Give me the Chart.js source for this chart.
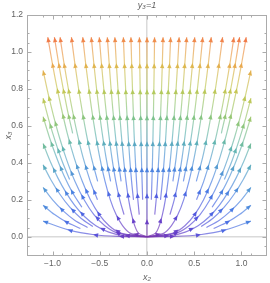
<!DOCTYPE html>
<html><head><meta charset="utf-8">
<script src="https://cdn.jsdelivr.net/npm/chart.js@4.4.1/dist/chart.umd.min.js"></script>
<style>html,body{margin:0;padding:0;background:#fff}</style>
</head><body>
<canvas id="c" width="270" height="283" style="width:270px;height:283px;display:block"></canvas>
<script>
// ---------- texts ----------
const titleText = 'y\u2083=1';
const xLabel = 'x\u2082';
const yLabel = 'x\u2083';
// ---------- axes ----------
const xRange = [-1.27, 1.27];
const yRange = [-0.104, 1.2];
const xMajor = 0.5, xMinor = 0.1;
const yMajor = 0.2, yMinor = 0.05;

// ---------- streamlines (left half, [x2, x3] points from start to end) ----------
const centerLine = [[0,0],[0,0.12],[0,0.2],[0,0.3],[0,0.43],[0,0.56],[0,0.69],[0,0.82],[0,0.95],[0,1.08]];

const topLines = [
 [[0,0],[-0.278,0.02],[-0.401,0.06],[-0.505,0.12],[-0.599,0.2],[-0.685,0.3],[-0.772,0.43],[-0.844,0.56],[-0.904,0.69],[-0.958,0.82],[-1.006,0.95],[-1.05,1.08]],
 [[-0.787,0.56],[-0.844,0.69],[-0.894,0.82],[-0.939,0.95],[-0.98,1.08]],
 [[-0.524,0.2],[-0.6,0.3],[-0.677,0.43],[-0.739,0.56],[-0.792,0.69],[-0.839,0.82],[-0.882,0.95],[-0.92,1.08]],
 [[-0.522,0.3],[-0.589,0.43],[-0.643,0.56],[-0.689,0.69],[-0.73,0.82],[-0.767,0.95],[-0.8,1.08]],
 [[0,0],[-0.18,0.02],[-0.259,0.06],[-0.327,0.12],[-0.388,0.2],[-0.444,0.3],[-0.5,0.43],[-0.546,0.56],[-0.586,0.69],[-0.62,0.82],[-0.652,0.95],[-0.68,1.08]],
 [[-0.385,0.3],[-0.434,0.43],[-0.474,0.56],[-0.508,0.69],[-0.538,0.82],[-0.565,0.95],[-0.59,1.08]],
 [[-0.243,0.12],[-0.288,0.2],[-0.33,0.3],[-0.372,0.43],[-0.406,0.56],[-0.435,0.69],[-0.461,0.82],[-0.484,0.95],[-0.505,1.08]],
 [[-0.274,0.3],[-0.309,0.43],[-0.337,0.56],[-0.362,0.69],[-0.383,0.82],[-0.402,0.95],[-0.42,1.08]],
 [[0,0],[-0.09,0.02],[-0.13,0.06],[-0.163,0.12],[-0.194,0.2],[-0.222,0.3],[-0.25,0.43],[-0.273,0.56],[-0.293,0.69],[-0.31,0.82],[-0.326,0.95],[-0.34,1.08]],
 [[-0.143,0.2],[-0.163,0.3],[-0.184,0.43],[-0.201,0.56],[-0.215,0.69],[-0.228,0.82],[-0.24,0.95],[-0.25,1.08]],
 [[-0.082,0.12],[-0.097,0.2],[-0.111,0.3],[-0.125,0.43],[-0.137,0.56],[-0.146,0.69],[-0.155,0.82],[-0.163,0.95],[-0.17,1.08]],
 [[-0.046,0.2],[-0.052,0.3],[-0.059,0.43],[-0.064,0.56],[-0.069,0.69],[-0.073,0.82],[-0.077,0.95],[-0.08,1.08]]
];

const sideLines = [
 [[0,0],[-0.309,0.02],[-0.446,0.06],[-0.562,0.12],[-0.666,0.2],[-0.763,0.3],[-0.853,0.42],[-0.928,0.54],[-0.992,0.66],[-1.049,0.78],[-1.1,0.9]],
 [[-0.819,0.31],[-0.899,0.41],[-0.973,0.52],[-1.038,0.63],[-1.1,0.75]],
 [[-0.689,0.16],[-0.789,0.24],[-0.878,0.33],[-0.958,0.43],[-1.034,0.54],[-1.1,0.65]],
 [[0,0],[-0.25,0.006],[-0.404,0.025],[-0.541,0.06],[-0.662,0.11],[-0.765,0.17],[-0.858,0.24],[-0.945,0.32],[-1.026,0.41],[-1.1,0.505]],
 [[-0.573,0.055],[-0.699,0.1],[-0.817,0.16],[-0.922,0.23],[-1.019,0.31],[-1.1,0.39]],
 [[-0.629,0.05],[-0.766,0.09],[-0.887,0.14],[-0.999,0.2],[-1.1,0.267]],
 [[-0.705,0.045],[-0.854,0.08],[-0.978,0.12],[-1.1,0.171]],
 [[0,0],[-0.3,0.002],[-0.56,0.011],[-0.83,0.037],[-1.1,0.085]]
];

// the plot is mirror-symmetric about x2 = 0
const leftLines = [...topLines, ...sideLines];
const rightLines = leftLines.map(l => l.map(([x, y]) => [-x, y]));
const allLines = [centerLine, ...leftLines, ...rightLines];

// ---------- styling ----------
const family = '"Liberation Sans", "DejaVu Sans", Arial, sans-serif';
const textColor = '#626262';
const frameColor = '#ababab';
const stops = [[0,[120,50,170]],[0.1,[100,60,200]],[0.2,[78,85,222]],[0.3,[68,118,228]],[0.4,[80,150,212]],[0.5,[92,178,180]],[0.6,[130,196,130]],[0.7,[175,200,90]],[0.8,[210,195,75]],[0.9,[238,160,75]],[1,[240,120,70]]];
function cmap(t, a) {
  t = Math.max(0, Math.min(1, t));
  for (let i = 1; i < stops.length; i++) {
    if (t <= stops[i][0]) {
      const [t0, c0] = stops[i-1], [t1, c1] = stops[i];
      const f = (t - t0) / (t1 - t0);
      const c = c0.map((v, k) => Math.round(v + (c1[k] - v) * f));
      return `rgba(${c[0]},${c[1]},${c[2]},${a})`;
    }
  }
  return `rgba(240,120,70,${a})`;
}
function speedT(x, y) { return Math.sqrt(x * x + 9 * y * y) / 3.4; }
function isMultiple(v, step) { return Math.abs(v / step - Math.round(v / step)) < 1e-6; }
function fmt(v) { return (v < -1e-9 ? '\u2212' : '') + Math.abs(v).toFixed(1); }

function lineGradient(ctx) {
  const chart = ctx.chart;
  const ds = chart.data.datasets[ctx.datasetIndex];
  const last = ds.data[ds.data.length - 1];
  if (!chart.chartArea) return cmap(speedT(last.x, last.y), 0.7);
  const xs = chart.scales.x, ys = chart.scales.y;
  const pts = ds.data.map(p => [xs.getPixelForValue(p.x), ys.getPixelForValue(p.y)]);
  const p0 = pts[0], p1 = pts[pts.length - 1];
  const dx = p1[0] - p0[0], dy = p1[1] - p0[1];
  const L2 = dx * dx + dy * dy || 1;
  const g = chart.ctx.createLinearGradient(p0[0], p0[1], p1[0], p1[1]);
  let prev = 0;
  ds.data.forEach((p, i) => {
    let t = ((pts[i][0] - p0[0]) * dx + (pts[i][1] - p0[1]) * dy) / L2;
    t = Math.max(prev, Math.min(1, Math.max(0, t)));
    prev = t;
    g.addColorStop(t, cmap(speedT(p.x, p.y), 0.68));
  });
  return g;
}

const arrowPlugin = {
  id: 'arrows',
  afterDatasetsDraw(chart) {
    const c = chart.ctx, xs = chart.scales.x, ys = chart.scales.y;
    const spacing = 26, len = 5, hw = 2.2;
    chart.data.datasets.forEach((ds, di) => {
      const meta = chart.getDatasetMeta(di);
      const pts = meta.data.map(e => [e.x, e.y]);
      const segL = [];
      let total = 0;
      for (let i = 1; i < pts.length; i++) {
        const l = Math.hypot(pts[i][0] - pts[i-1][0], pts[i][1] - pts[i-1][1]);
        segL.push(l); total += l;
      }
      for (let d = total; d > 9; d -= spacing) {
        let acc = 0, k = 0;
        while (k < segL.length - 1 && acc + segL[k] < d) { acc += segL[k]; k++; }
        const f = segL[k] ? (d - acc) / segL[k] : 1;
        const a = pts[k], b = pts[k+1];
        const px = a[0] + (b[0] - a[0]) * f, py = a[1] + (b[1] - a[1]) * f;
        const ux = (b[0] - a[0]) / (segL[k] || 1), uy = (b[1] - a[1]) / (segL[k] || 1);
        c.save();
        c.fillStyle = cmap(speedT(xs.getValueForPixel(px), ys.getValueForPixel(py)), 0.95);
        c.beginPath();
        c.moveTo(px, py);
        c.lineTo(px - ux * len - uy * hw, py - uy * len + ux * hw);
        c.lineTo(px - ux * len + uy * hw, py - uy * len - ux * hw);
        c.closePath();
        c.fill();
        c.restore();
      }
    });
  }
};

const framePlugin = {
  id: 'frame',
  afterDraw(chart) {
    const c = chart.ctx, a = chart.chartArea, x = chart.scales.x, y = chart.scales.y;
    c.save();
    c.strokeStyle = frameColor; c.lineWidth = 1;
    c.strokeRect(Math.round(a.left) + 0.5, Math.round(a.top) + 0.5, Math.round(a.right - a.left) - 1, Math.round(a.bottom - a.top) - 1);
    c.beginPath();
    x.ticks.forEach(t => {
      if (!isMultiple(t.value, xMinor)) return;
      const l = isMultiple(t.value, xMajor) ? 4.5 : 2.5;
      const p = Math.round(x.getPixelForValue(t.value)) + 0.5;
      c.moveTo(p, a.bottom); c.lineTo(p, a.bottom - l);
      c.moveTo(p, a.top); c.lineTo(p, a.top + l);
    });
    y.ticks.forEach(t => {
      if (!isMultiple(t.value, yMinor)) return;
      const l = isMultiple(t.value, yMajor) ? 4.5 : 2.5;
      const p = Math.round(y.getPixelForValue(t.value)) + 0.5;
      c.moveTo(a.left, p); c.lineTo(a.left + l, p);
      c.moveTo(a.right, p); c.lineTo(a.right - l, p);
    });
    c.stroke();
    c.restore();
  }
};

const zeroGrid = ctx => (ctx.tick && Math.abs(ctx.tick.value) < 1e-9) ? '#dadada' : 'rgba(0,0,0,0)';

new Chart(document.getElementById('c'), {
  type: 'scatter',
  data: {
    datasets: allLines.map(l => ({
      data: l.map(([x, y]) => ({ x, y })),
      showLine: true,
      pointRadius: 0,
      pointHoverRadius: 0,
      borderWidth: 1.2,
      tension: 0.3,
      fill: false,
      borderColor: lineGradient
    }))
  },
  options: {
    responsive: false,
    devicePixelRatio: 1,
    animation: false,
    events: [],
    layout: { padding: { left: 0, right: 2, top: 0, bottom: 0 } },
    plugins: {
      legend: { display: false },
      tooltip: { enabled: false },
      title: {
        display: true, text: titleText, fullSize: false, color: textColor,
        font: { family, size: 9, style: 'italic', weight: 'normal' },
        padding: { top: 0, bottom: 4.2 }
      }
    },
    scales: {
      x: {
        type: 'linear', min: xRange[0], max: xRange[1],
        afterFit: s => { s.height = 27; },
        border: { display: false },
        grid: { drawTicks: false, color: zeroGrid, lineWidth: 1.5 },
        ticks: {
          stepSize: xMinor, autoSkip: false, maxRotation: 0, padding: 3,
          color: textColor, font: { family, size: 8.5 },
          callback: v => isMultiple(v, xMajor) ? fmt(v) : ''
        },
        title: { display: true, text: xLabel, color: textColor, font: { family, size: 9, style: 'italic' }, padding: { top: 0, bottom: 0 } }
      },
      y: {
        type: 'linear', min: yRange[0], max: yRange[1],
        afterFit: s => { s.width = 27; },
        border: { display: false },
        grid: { drawTicks: false, color: zeroGrid, lineWidth: 1.5 },
        ticks: {
          stepSize: yMinor, autoSkip: false, padding: 4,
          color: textColor, font: { family, size: 8.5 },
          callback: v => isMultiple(v, yMajor) ? fmt(v) : ''
        },
        title: { display: true, text: yLabel, color: textColor, font: { family, size: 9, style: 'italic' }, padding: { top: 3, bottom: 0 } }
      }
    }
  },
  plugins: [arrowPlugin, framePlugin]
});
</script>
</body></html>
